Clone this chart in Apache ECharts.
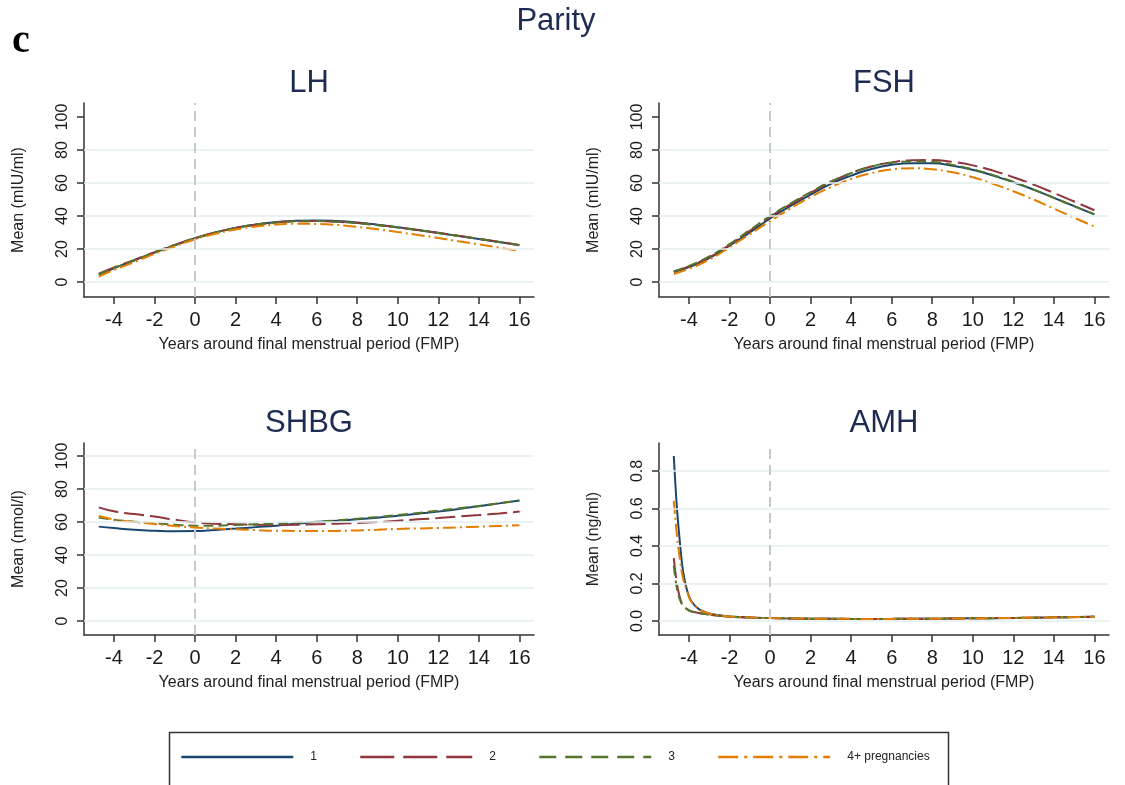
<!DOCTYPE html>
<html><head><meta charset="utf-8">
<script src="https://cdn.jsdelivr.net/npm/echarts@6/dist/echarts.min.js"></script>
<style>html,body{margin:0;padding:0;background:#fff}#c{width:1125px;height:785px}</style>
</head><body><div id="c"></div><script>
// ---------- data ----------
const groups = ['1', '2', '3', '4+ pregnancies'];
const years = [-4.75, -4, -3, -2, -1, 0, 1, 2, 3, 4, 5, 6, 7, 8, 9, 10, 11, 12, 13, 14, 15, 16];
const amhYears = [-4.75, -4.6, -4.45, -4.3, -4.1, -3.9, -3.5, -3, -2.5, -2, -1, 0, 2, 4, 6, 8, 10, 12, 14, 16];

const lh1 = [4.3, 8.3, 13, 17.8, 22.3, 26.5, 30, 32.8, 34.9, 36.3, 37.1, 37.3, 36.9, 36, 34.7, 33.2, 31.5, 29.7, 27.9, 26.1, 24.2, 22.3];
const lh2 = [5, 8.8, 13.4, 18.1, 22.5, 26.6, 30, 32.7, 34.7, 36.1, 36.8, 36.9, 36.5, 35.7, 34.5, 33.1, 31.5, 29.8, 28, 26.2, 24.3, 22.5];
const lh3 = [4.6, 8.5, 13.2, 18, 22.4, 26.5, 30, 32.7, 34.8, 36.1, 36.8, 36.9, 36.5, 35.6, 34.4, 33, 31.4, 29.7, 27.9, 26.1, 24.2, 22.3];
const lh4 = [3.3, 7.3, 12, 17, 21.6, 25.9, 29.2, 31.8, 33.6, 34.8, 35.3, 35.2, 34.6, 33.4, 32, 30.3, 28.5, 26.6, 24.7, 22.8, 20.8, 18.8];

const fsh1 = [6, 9, 14.5, 22, 30, 38.5, 46, 53, 59.5, 64.5, 68.5, 71, 72, 72, 70.5, 68, 64.5, 60.5, 56, 51, 46, 41];
const fsh2 = [6.3, 9.5, 15, 22.5, 31, 39.5, 47, 54, 60.5, 66, 70, 72.5, 73.8, 74, 72.8, 70.7, 67.5, 63.5, 59, 54, 48.8, 43.5];
const fsh3 = [6.5, 9.8, 15.5, 23, 31.5, 40, 47.5, 54.5, 61, 66, 70, 72.3, 73, 72.8, 71, 68.3, 64.8, 60.7, 56, 51, 46, 41];
const fsh4 = [4.8, 8, 13.5, 21, 29, 36.8, 44.5, 51.5, 57.5, 62.5, 66, 68.2, 69, 68.3, 66.5, 63.5, 59.5, 55, 50, 44.5, 39, 33.6];

const shbg1 = [57.2, 56.3, 55.3, 54.7, 54.4, 54.5, 55.2, 56, 56.9, 57.8, 58.9, 60, 60.8, 61.6, 62.6, 63.8, 65, 66.3, 67.9, 69.6, 71.3, 73.1];
const shbg2 = [68.9, 66.5, 64.8, 63.3, 61.4, 59.8, 59, 58.6, 58.3, 58.2, 58.3, 58.6, 59, 59.4, 60, 60.8, 61.6, 62.4, 63.3, 64.2, 65.2, 66.3];
const shbg3 = [62.8, 61.4, 60.2, 59.2, 58.4, 57.8, 57.8, 58.2, 58.6, 59, 59.5, 60.2, 61, 62, 63, 64.2, 65.5, 66.9, 68.3, 69.7, 71.4, 73.1];
const shbg4 = [63.6, 61.5, 60, 58.8, 57.6, 56.6, 56, 55.6, 55.1, 54.7, 54.6, 54.5, 54.6, 54.9, 55.3, 55.8, 56.1, 56.4, 56.8, 57.2, 57.6, 58];

const amh1 = [0.88, 0.61, 0.42, 0.27, 0.165, 0.108, 0.062, 0.040, 0.030, 0.024, 0.018, 0.015, 0.012, 0.011, 0.011, 0.012, 0.014, 0.016, 0.019, 0.022];
const amh2 = [0.335, 0.20, 0.125, 0.085, 0.064, 0.052, 0.042, 0.034, 0.028, 0.023, 0.018, 0.015, 0.012, 0.011, 0.011, 0.012, 0.014, 0.016, 0.019, 0.022];
const amh3 = [0.295, 0.175, 0.115, 0.082, 0.063, 0.051, 0.041, 0.033, 0.027, 0.023, 0.018, 0.015, 0.012, 0.011, 0.011, 0.012, 0.014, 0.016, 0.019, 0.022];
const amh4 = [0.64, 0.46, 0.33, 0.23, 0.16, 0.105, 0.062, 0.040, 0.030, 0.024, 0.018, 0.015, 0.012, 0.011, 0.011, 0.012, 0.014, 0.016, 0.019, 0.022];

const panelTitles = ['LH', 'FSH', 'SHBG', 'AMH'];
const yTitles = ['Mean (mIU/ml)', 'Mean (mIU/ml)', 'Mean (nmol/l)', 'Mean (ng/ml)'];
const xTitle = 'Years around final menstrual period (FMP)';
const xTickVals = [-4, -2, 0, 2, 4, 6, 8, 10, 12, 14, 16];
const yTickHormone = [0, 20, 40, 60, 80, 100];
const yTickAMH = [0, 0.2, 0.4, 0.6, 0.8];
const gridLinesTop = [0, 20, 40, 60, 80];
const gridLinesSHBG = [0, 20, 40, 60, 80, 100];
const gridLinesAMH = [0, 0.2, 0.4, 0.6, 0.8];
const fmpYear = 0;

// ---------- layout / style ----------
const colors = ['#1a476f', '#90353b', '#55752f', '#e37e00'];
const plotDash = ['solid', [20, 6], [10, 5], [13, 4, 2, 4]];
const legendDash = ['solid', [34, 9], [17, 9], [20, 6, 3, 6]];
const FONT = 'Liberation Sans, Arial, sans-serif';

const panels = [
  { xs: years, ys: [lh1, lh2, lh3, lh4], yTicks: yTickHormone, gl: gridLinesTop, ymin: -9.1, ymax: 108.5, left: 84, top: 103, h: 194, fmt: v => String(v) },
  { xs: years, ys: [fsh1, fsh2, fsh3, fsh4], yTicks: yTickHormone, gl: gridLinesTop, ymin: -9.1, ymax: 108.5, left: 659, top: 103, h: 194, fmt: v => String(v) },
  { xs: years, ys: [shbg1, shbg2, shbg3, shbg4], yTicks: yTickHormone, gl: gridLinesSHBG, ymin: -8.5, ymax: 107.9, left: 84, top: 443, h: 192, fmt: v => String(v) },
  { xs: amhYears, ys: [amh1, amh2, amh3, amh4], yTicks: yTickAMH, gl: gridLinesAMH, ymin: -0.075, ymax: 0.949, left: 659, top: 443, h: 192, fmt: v => Number(v).toFixed(1) }
];
const W = 450;

const grid = [], xAxis = [], yAxis = [], series = [], graphic = [];
panels.forEach((p, k) => {
  grid.push({ left: p.left, top: p.top, width: W, height: p.h, containLabel: false });
  xAxis.push({
    type: 'value', gridIndex: k, min: -5.48, max: 16.72,
    name: xTitle, nameLocation: 'middle', nameGap: 40,
    nameTextStyle: { fontFamily: FONT, fontSize: 16, color: '#222' },
    axisLine: { show: true, onZero: false, lineStyle: { color: '#333', width: 1.5 } },
    axisTick: { show: true, length: 7, customValues: xTickVals, lineStyle: { color: '#333', width: 1.5 } },
    axisLabel: { customValues: xTickVals, fontFamily: FONT, fontSize: 20, color: '#1a1a1a', margin: 13 },
    splitLine: { show: false }
  });
  yAxis.push({
    type: 'value', gridIndex: k, min: p.ymin, max: p.ymax,
    name: yTitles[k], nameLocation: 'middle', nameGap: 57,
    nameTextStyle: { fontFamily: FONT, fontSize: 16, color: '#222' },
    axisLine: { show: true, onZero: false, lineStyle: { color: '#333', width: 1.5 } },
    axisTick: { show: true, length: 7, customValues: p.yTicks, lineStyle: { color: '#333', width: 1.5 } },
    axisLabel: { customValues: p.yTicks, rotate: 90, fontFamily: FONT, fontSize: 16, color: '#1a1a1a', margin: 13, formatter: p.fmt },
    splitLine: { show: false }
  });
  // reference lines (grid lines + FMP line)
  series.push({
    type: 'line', name: 'ref' + k, xAxisIndex: k, yAxisIndex: k, data: [], z: 1,
    markLine: {
      silent: true, symbol: ['none', 'none'], animation: false, label: { show: false },
      data: p.gl.map(v => ({ yAxis: v, lineStyle: { color: '#e4eef1', width: 1.5, type: 'solid' } }))
        .concat([{ xAxis: fmpYear, lineStyle: { color: '#c9c9c9', width: 2, type: [10, 6] } }])
    }
  });
  groups.forEach((g, i) => {
    series.push({
      type: 'line', name: g, xAxisIndex: k, yAxisIndex: k, z: 3,
      data: p.xs.map((x, j) => [x, p.ys[i][j]]),
      symbol: 'none', showSymbol: false, smooth: k === 3 ? 0.4 : true,
      lineStyle: { color: colors[i], width: 2, type: plotDash[i] },
      itemStyle: { color: colors[i] }, animation: false
    });
  });
  graphic.push({
    type: 'text', x: p.left + W / 2, y: p.top - 20,
    style: { text: panelTitles[k], font: '31px ' + FONT, fill: '#1e2c52', textAlign: 'center', textVerticalAlign: 'middle' }
  });
});

graphic.push({ type: 'text', x: 556, y: 21, style: { text: 'Parity', font: '31px ' + FONT, fill: '#1e2c52', textAlign: 'center', textVerticalAlign: 'middle' } });
graphic.push({ type: 'text', x: 12, y: 42, style: { text: 'c', font: 'bold 40px Liberation Serif, Times New Roman, serif', fill: '#000', textAlign: 'left', textVerticalAlign: 'middle' } });
graphic.push({ type: 'rect', left: 167, top: 730, shape: { width: 779, height: 54 }, style: { fill: 'none', stroke: '#333', lineWidth: 1.5 }, z: 0 });

const legend = groups.map((g, i) => ({
  data: [{ name: g, lineStyle: { type: legendDash[i], width: 2.5, color: colors[i] }, itemStyle: { opacity: 0 } }],
  left: 180 + 179 * i, top: 751, padding: 0, itemWidth: 112, itemHeight: 12, selectedMode: false,
  textStyle: { fontFamily: 'Liberation Sans Narrow, Arial Narrow, ' + FONT, fontSize: 12, color: '#222', padding: [0, 0, 0, 12] }
}));

const chart = echarts.init(document.getElementById('c'), null, { renderer: 'canvas' });
chart.setOption({ animation: false, backgroundColor: '#fff', grid, xAxis, yAxis, series, legend, graphic });
</script></body></html>
